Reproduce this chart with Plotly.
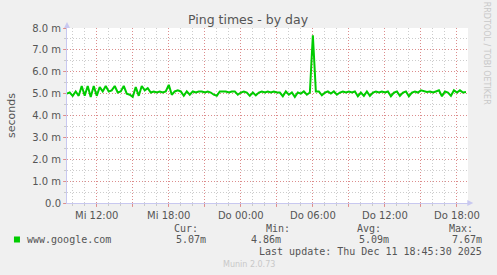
import plotly.graph_objects as go

# ---- data ----
start_hour = 9.5          # Mi 09:30, hours since Mi 00:00
step_hours = 0.25         # 15-minute samples
values_ms = [
    5.00, 5.05, 4.90, 5.10, 4.90, 5.35, 4.90, 5.35, 4.85, 5.35,
    4.90, 5.30, 5.10, 5.35, 5.10, 5.15, 5.35, 5.05, 5.10, 5.35,
    5.00, 4.95, 4.85, 5.30, 4.90, 5.35, 5.15, 5.25, 5.05, 5.10,
    5.05, 5.10, 5.05, 5.10, 5.40, 4.95, 5.10, 5.15, 5.10, 4.90,
    5.10, 4.95, 5.10, 5.05, 5.10, 5.10, 5.05, 5.10, 5.05, 4.95,
    4.90, 5.10, 5.10, 5.10, 5.05, 5.10, 5.10, 4.95, 5.05, 5.10,
    5.05, 4.90, 5.05, 4.92, 5.05, 5.10, 5.05, 5.10, 5.05, 5.10,
    5.05, 5.05, 4.88, 5.10, 4.95, 5.05, 4.85, 5.05, 5.00, 5.10,
    4.95, 5.05, 7.67, 5.10, 5.10, 4.92, 5.05, 5.10, 5.00, 5.10,
    4.95, 5.05, 5.10, 5.05, 5.10, 5.05, 5.10, 4.88, 5.05, 4.90,
    5.10, 4.90, 5.05, 5.10, 5.05, 5.10, 5.05, 5.10, 4.88, 5.05,
    5.10, 4.90, 5.05, 5.10, 4.88, 5.05, 5.10, 5.05, 5.15, 5.10,
    5.08, 5.10, 5.05, 5.10, 5.15, 4.88, 5.10, 5.05, 4.90, 5.15,
    5.05, 5.15, 5.05, 5.07,
]
hours = [start_hour + step_hours * i for i in range(len(values_ms))]

x_tickvals = [12, 15, 18, 21, 24, 27, 30, 33, 36, 39, 42]
x_ticktext = ["Mi 12:00", "", "Mi 18:00", "", "Do 00:00", "", "Do 06:00", "",
              "Do 12:00", "", "Do 18:00"]
y_tickvals = [0, 1, 2, 3, 4, 5, 6, 7, 8]
y_ticktext = ["0.0", "1.0 m", "2.0 m", "3.0 m", "4.0 m", "5.0 m", "6.0 m", "7.0 m", "8.0 m"]

series_name = "www.google.com"
stat_labels = ["Cur:", "Min:", "Avg:", "Max:"]
stat_values = ["5.07m", "4.86m", "5.09m", "7.67m"]
last_update = "Last update: Thu Dec 11 18:45:30 2025"
title_text = "Ping times - by day"
y_title = "seconds"
side_text = "RRDTOOL / TOBI OETIKER"
footer = "Munin 2.0.73"

# ---- layout geometry (pixels) ----
W, H = 497, 275
L, R, T, B = 67, 467.7, 28, 203

def px(x):
    return (x - L) / (R - L)

def py(y):
    return (B - y) / (B - T)

GREEN = "#00CC00"
MONO = "DejaVu Sans Mono"
SANS = "DejaVu Sans"
TXT = "#555555"
MAJ = "rgba(225,120,120,0.75)"
MIN = "rgba(195,195,195,0.85)"
AXIS = "#C8C8F0"

fig = go.Figure()
fig.add_trace(go.Scatter(x=hours, y=values_ms, mode="lines",
                         line=dict(color=GREEN, width=2), showlegend=False,
                         hoverinfo="skip"))

fig.update_layout(
    width=W, height=H,
    margin=dict(l=L, r=W - R, t=T, b=H - B, pad=0),
    paper_bgcolor="#F0F0F0", plot_bgcolor="#FFFFFF",
    showlegend=False,
    xaxis=dict(range=[9.525, 42.92], tickvals=x_tickvals, ticktext=x_ticktext,
               showgrid=True, gridcolor=MAJ, griddash="1px,2px", gridwidth=1,
               minor=dict(dtick=1, tick0=0, showgrid=True, gridcolor=MIN,
                          griddash="1px,2px", ticks="outside", ticklen=2,
                          tickcolor=MIN),
               ticks="outside", ticklen=3, tickcolor=MAJ,
               showline=True, linecolor=AXIS, linewidth=1,
               zeroline=False,
               tickfont=dict(family=SANS, size=10, color=TXT)),
    yaxis=dict(range=[0, 8], tickvals=y_tickvals, ticktext=y_ticktext,
               showgrid=True, gridcolor=MAJ, griddash="1px,2px", gridwidth=1,
               minor=dict(dtick=0.5, tick0=0, showgrid=True, gridcolor=MIN,
                          griddash="1px,2px", ticks="outside", ticklen=2,
                          tickcolor=MIN),
               ticks="outside", ticklen=3, tickcolor=MAJ,
               showline=True, linecolor=AXIS, linewidth=1,
               zeroline=False,
               tickfont=dict(family=SANS, size=10, color=TXT)),
)

annos = []
annos.append(dict(x=px(248), y=py(19), text=title_text, showarrow=False,
                  xanchor="center", yanchor="middle",
                  font=dict(family=SANS, size=12.5, color=TXT)))
annos.append(dict(x=px(11), y=py(115), text=y_title, showarrow=False, textangle=-90,
                  xanchor="center", yanchor="middle",
                  font=dict(family=SANS, size=11, color=TXT)))
annos.append(dict(x=px(487), y=py(53), text=side_text, showarrow=False, textangle=90,
                  xanchor="center", yanchor="middle",
                  font=dict(family=SANS, size=8, color="#C8C8C8")))
# legend name
annos.append(dict(x=px(25.5), y=py(239.5), text=series_name, showarrow=False,
                  xanchor="left", yanchor="middle",
                  font=dict(family=MONO, size=10, color=TXT)))
stat_label_x = [172, 264, 355, 447]
stat_value_right = [207.5, 283, 391, 483.5]
for lab, val, lx, vx in zip(stat_labels, stat_values, stat_label_x, stat_value_right):
    annos.append(dict(x=px(lx), y=py(228), text=lab, showarrow=False,
                      xanchor="left", yanchor="middle",
                      font=dict(family=MONO, size=10, color=TXT)))
    annos.append(dict(x=px(vx), y=py(239.5), text=val, showarrow=False,
                      xanchor="right", yanchor="middle",
                      font=dict(family=MONO, size=10, color=TXT)))
annos.append(dict(x=px(483.5), y=py(251.5), text=last_update, showarrow=False,
                  xanchor="right", yanchor="middle",
                  font=dict(family=MONO, size=10, color=TXT)))
annos.append(dict(x=px(249), y=py(264), text=footer, showarrow=False,
                  xanchor="center", yanchor="middle",
                  font=dict(family=SANS, size=8, color="#C8C8C8")))
for a in annos:
    a["xref"] = "paper"
    a["yref"] = "paper"
fig.update_layout(annotations=annos)

shapes = [
    # legend colour box
    dict(type="rect", xref="paper", yref="paper",
         x0=px(14), x1=px(20), y0=py(242.5), y1=py(236.5),
         fillcolor=GREEN, line=dict(width=0)),
    # y-axis arrow
    dict(type="path", xref="paper", yref="paper",
         path=f"M {px(64)} {py(28)} L {px(70)} {py(28)} L {px(67)} {py(22)} Z",
         fillcolor=AXIS, line=dict(width=0)),
    # x-axis arrow
    dict(type="path", xref="paper", yref="paper",
         path=f"M {px(467)} {py(200)} L {px(467)} {py(206)} L {px(473)} {py(203)} Z",
         fillcolor=AXIS, line=dict(width=0)),
]
fig.update_layout(shapes=shapes)

fig.write_html("out.html")
